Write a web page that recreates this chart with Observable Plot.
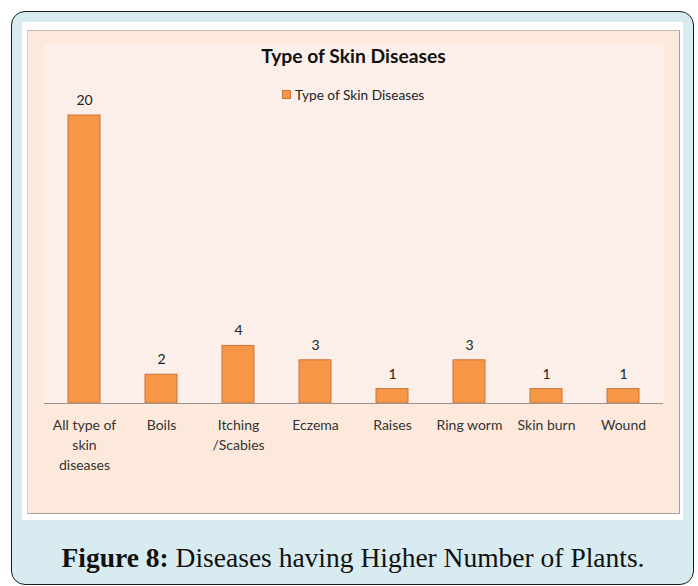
<!DOCTYPE html>
<html>
<head>
<meta charset="utf-8">
<script src="https://cdn.jsdelivr.net/npm/d3@7"></script>
<script src="https://cdn.jsdelivr.net/npm/@observablehq/plot@0.6"></script>
<style>
  html, body { margin: 0; padding: 0; background: #ffffff; }
  body { width: 698px; height: 586px; position: relative; overflow: hidden; font-family: Lato, "Open Sans", sans-serif; }
  #frame { position: absolute; left: 11px; top: 11px; width: 681px; height: 572px; border: 1.5px solid #1a1a1a; border-radius: 14px; background: #d7ebf0; }
  #white { position: absolute; left: 22px; top: 22px; width: 661px; height: 498px; background: #ffffff; }
  #chart { position: absolute; left: 27px; top: 30px; width: 651px; height: 482px; background: #fde9db; border-top: 1px solid #c4bab2; border-right: 1.5px solid #a9a29c; border-bottom: 1.5px solid #a9a29c; border-left: 1px solid #d8d0ca; }
  #chart svg { position: absolute; left: 0; top: 0; z-index: 0; }
  #title { position: absolute; z-index: 2; left: 0; width: 651px; top: 13px; text-align: center; font-weight: bold; font-size: 19.3px; color: #111; font-family: Lato, sans-serif; }
  #legend { position: absolute; z-index: 2; left: 254px; top: 55px; font-size: 13.7px; color: #222; display: flex; align-items: center; font-family: Lato, sans-serif; }
  #legend .sw { width: 7px; height: 7px; background: #f79646; border: 1px solid #c8743a; margin-right: 4px; }
  #caption { position: absolute; left: 11px; width: 684px; top: 542px; text-align: center; font-family: "Liberation Serif", "DejaVu Serif", serif; font-size: 27.5px; color: #111; }
</style>
</head>
<body>
<div id="frame"></div>
<div id="white"></div>
<div id="chart">
  <div id="title">Type of Skin Diseases</div>
  <div id="legend"><span class="sw"></span>Type of Skin Diseases</div>
</div>
<div id="caption"><b>Figure 8:</b> Diseases having Higher Number of Plants.</div>
<script>
const categories = ["All type of\nskin\ndiseases", "Boils", "Itching\n/Scabies", "Eczema", "Raises", "Ring worm", "Skin burn", "Wound"];
const values = [20, 2, 4, 3, 1, 3, 1, 1];

const data = categories.map((c, i) => ({category: c, value: values[i]}));

const chart = Plot.plot({
  width: 651,
  height: 482,
  marginLeft: 16,
  marginRight: 16,
  marginTop: 12,
  marginBottom: 110,
  style: {background: "transparent", fontFamily: "Lato, sans-serif", fontSize: "14px"},
  x: {domain: categories, paddingInner: 0.59, paddingOuter: 0.295, label: null},
  y: {domain: [0, 25], label: null, axis: null},
  marks: [
    Plot.frame({fill: "#fcefea", stroke: null}),
    Plot.barY(data, {x: "category", y: "value", fill: "#f79646", stroke: "#c8743a", strokeWidth: 1}),
    Plot.ruleY([0], {stroke: "#9a9591", strokeWidth: 1}),
    Plot.text(data, {x: "category", y: "value", text: d => String(d.value), dy: -15, fontSize: 14, fill: "#222"}),
    Plot.axisX({tickSize: 0, tickPadding: 13, fontSize: 14, lineHeight: 1.4, color: "#333", label: null})
  ]
});
document.getElementById("chart").prepend(chart);
</script>
</body>
</html>
